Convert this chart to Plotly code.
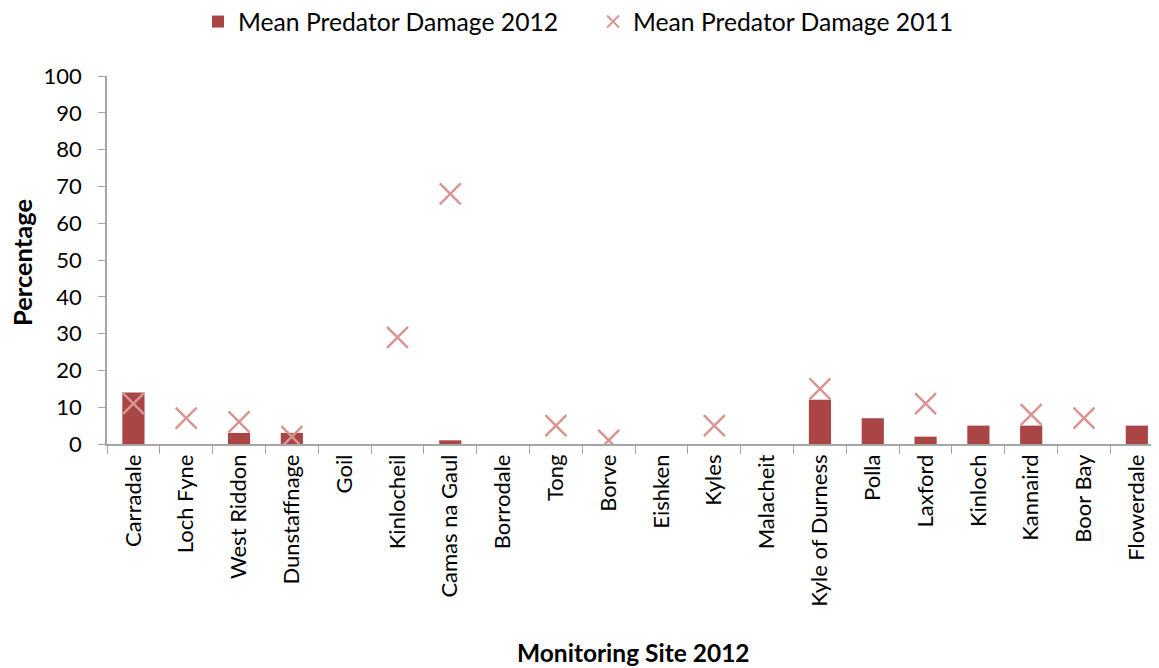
import plotly.graph_objects as go

sites = ["Carradale", "Loch Fyne", "West Riddon", "Dunstaffnage", "Goil", "Kinlocheil",
         "Camas na Gaul", "Borrodale", "Tong", "Borve", "Eishken", "Kyles", "Malacheit",
         "Kyle of Durness", "Polla", "Laxford", "Kinloch", "Kannaird", "Boor Bay", "Flowerdale"]
damage_2012 = [14, 0, 3, 3, 0, 0, 1, 0, 0, 0, 0, 0, 0, 12, 7, 2, 5, 5, 0, 5]
damage_2011 = [11, 7, 6, 2, None, 29, 68, None, 5, 1, None, 5, None, 15, None, 11, None, 8, 7, None]
y_ticks = list(range(0, 101, 10))

FONT = "Lato, 'Open Sans', sans-serif"
BAR = "#A94545"
MARK = "#D99594"

# the page body has an 8px margin, so the figure is sized/placed relative to (8, 8)
W, H = 1151, 660
PLOT_L, PLOT_T, PLOT_B = 99, 68, 436
PLOT_W = W - PLOT_L
PLOT_H = PLOT_B - PLOT_T

fig = go.Figure()
fig.add_trace(go.Bar(
    x=sites, y=damage_2012, name="Mean Predator Damage 2012",
    marker=dict(color=BAR, line=dict(width=0)), width=0.42, legend="legend",
))
fig.add_trace(go.Scatter(
    x=sites, y=damage_2011, name="Mean Predator Damage 2011", mode="markers",
    marker=dict(symbol="x-thin-open", size=21, color=MARK, line=dict(width=2.5, color=MARK)),
    legend="legend2",
))

leg_common = dict(orientation="h", xref="container", yref="container",
                  xanchor="left", y=1 - 14 / H, yanchor="middle",
                  font=dict(size=24.7), itemsizing="constant", bgcolor="rgba(0,0,0,0)")

fig.update_layout(
    width=W, height=H,
    margin=dict(l=PLOT_L, r=0, t=PLOT_T, b=H - PLOT_B, autoexpand=False),
    paper_bgcolor="white", plot_bgcolor="white",
    font=dict(family=FONT, size=22, color="#000000"),
    showlegend=True,
    legend=dict(x=190 / W, **leg_common),
    legend2=dict(x=585 / W, **leg_common),
    annotations=[
        dict(text="<b>Monitoring Site 2012</b>", xref="paper", yref="paper",
             x=0.5, y=(PLOT_B - 644) / PLOT_H, xanchor="center", yanchor="middle",
             showarrow=False, font=dict(size=24.5)),
        dict(text="<b>Percentage</b>", xref="paper", yref="paper",
             x=(14 - PLOT_L) / PLOT_W, y=(PLOT_B - 255) / PLOT_H,
             xanchor="center", yanchor="middle",
             textangle=-90, showarrow=False, font=dict(size=25.5)),
    ],
)
fig.update_xaxes(
    type="category", range=[-0.5, 19.42], automargin=False,
    showline=True, linecolor="#A6A6A6", linewidth=1.5,
    ticks="outside", tickson="boundaries", ticklen=8, tickcolor="#A6A6A6",
    tickangle=-90, tickfont=dict(size=22), showgrid=False,
)
fig.update_yaxes(
    range=[0, 100], tickvals=y_ticks, automargin=False,
    showline=True, linecolor="#A6A6A6", linewidth=1.5,
    ticks="outside", ticklen=7, tickcolor="#A6A6A6", ticklabelstandoff=12,
    showgrid=False, zeroline=False, tickfont=dict(size=22),
)

fig.write_html("out.html")
